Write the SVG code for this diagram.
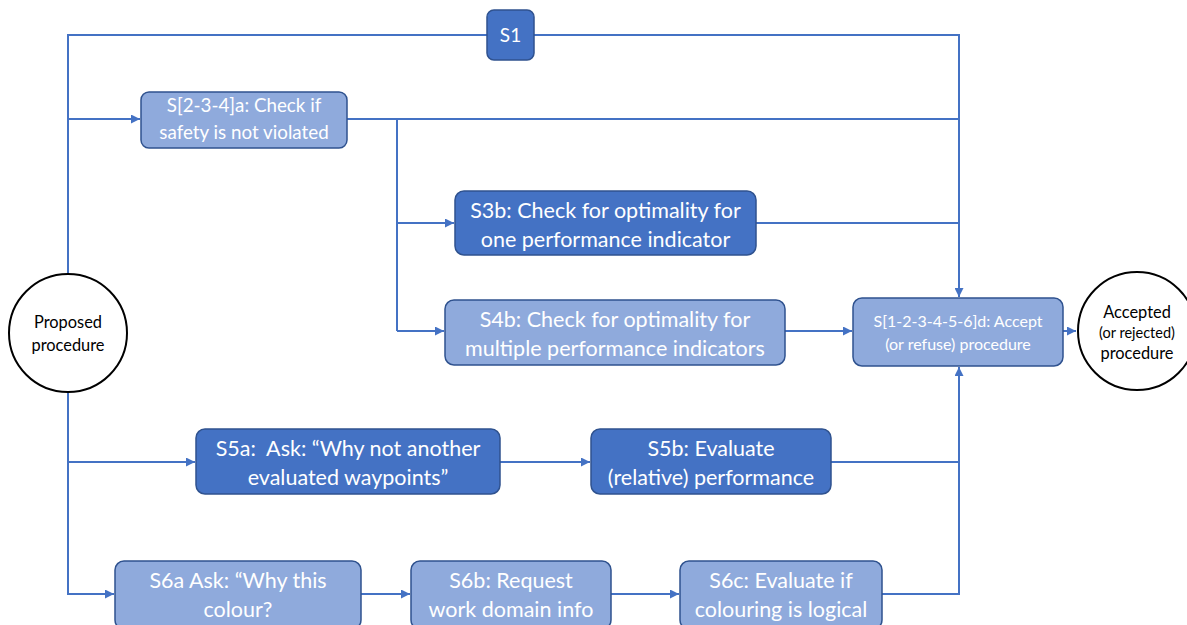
<svg xmlns="http://www.w3.org/2000/svg" width="1187" height="625" viewBox="0 0 1187 625">
  <style>
    .conn { fill: none; stroke: #4472C4; stroke-width: 2; }
    .dark { fill: #4472C4; stroke: #2F528F; stroke-width: 1.5; }
    .light { fill: #8FAADC; stroke: #2F528F; stroke-width: 1.5; }
    .circ { fill: #FFFFFF; stroke: #000000; stroke-width: 2; }
    .t { font-family: Lato, "Liberation Sans", sans-serif; fill: #FFFFFF; text-anchor: middle; white-space: pre; }
    .tb { font-family: Lato, "Liberation Sans", sans-serif; fill: #000000; text-anchor: middle; }
  </style>
  <defs>
    <marker id="arr" viewBox="0 0 10 10" refX="10" refY="5" markerWidth="4.5" markerHeight="4.5" orient="auto" markerUnits="strokeWidth">
      <path d="M0,0 L10,5 L0,10 Z" fill="#4472C4"/>
    </marker>
  </defs>
  <rect width="1187" height="625" fill="#FFFFFF"/>

  <g id="connectors">
    <!-- S1 route over the top -->
    <path class="conn" d="M68,273 V35 H959 V297" marker-end="url(#arr)"/>
    <!-- to S[2-3-4]a -->
    <path class="conn" d="M68,119 H140" marker-end="url(#arr)"/>
    <!-- S[2-3-4]a out to the accept column -->
    <path class="conn" d="M347,119 H959"/>
    <!-- branch down to S3b and S4b -->
    <path class="conn" d="M397,119 V331"/>
    <path class="conn" d="M397,223 H454" marker-end="url(#arr)"/>
    <path class="conn" d="M397,331 H444" marker-end="url(#arr)"/>
    <!-- S3b out -->
    <path class="conn" d="M756,223 H959"/>
    <!-- S4b to accept -->
    <path class="conn" d="M785,331 H852" marker-end="url(#arr)"/>
    <!-- accept to result -->
    <path class="conn" d="M1063,331 H1076" marker-end="url(#arr)"/>
    <!-- lower trunk -->
    <path class="conn" d="M68,393 V594 H114" marker-end="url(#arr)"/>
    <path class="conn" d="M68,462 H195" marker-end="url(#arr)"/>
    <path class="conn" d="M500,462 H590" marker-end="url(#arr)"/>
    <path class="conn" d="M361,594 H410" marker-end="url(#arr)"/>
    <path class="conn" d="M611,594 H679" marker-end="url(#arr)"/>
    <!-- S5b and S6c back up to accept -->
    <path class="conn" d="M831,462 H959"/>
    <path class="conn" d="M882,594 H959 V367" marker-end="url(#arr)"/>
  </g>

  <g id="proposed">
    <circle class="circ" cx="68" cy="333" r="59"/>
    <text class="tb" x="68" y="328" font-size="16.4">Proposed</text>
    <text class="tb" x="68" y="351" font-size="16.4">procedure</text>
  </g>

  <g id="s1">
    <rect class="dark" x="487" y="10" width="47" height="50" rx="7"/>
    <text class="t" x="510.5" y="42" font-size="19">S1</text>
  </g>

  <g id="s234a">
    <rect class="light" x="141" y="92" width="206" height="56" rx="8"/>
    <text class="t" x="244" y="112" font-size="18.8">S[2-3-4]a: Check if</text>
    <text class="t" x="244" y="139" font-size="18.8">safety is not violated</text>
  </g>

  <g id="s3b">
    <rect class="dark" x="455" y="191" width="301" height="64" rx="9"/>
    <text class="t" x="605.5" y="218" font-size="21.5">S3b: Check for optimality for</text>
    <text class="t" x="605.5" y="247" font-size="21.5">one performance indicator</text>
  </g>

  <g id="s4b">
    <rect class="light" x="445" y="300" width="340" height="65" rx="9"/>
    <text class="t" x="615" y="327" font-size="21.5">S4b: Check for optimality for</text>
    <text class="t" x="615" y="356" font-size="21.5">multiple performance indicators</text>
  </g>

  <g id="s123456d">
    <rect class="light" x="853" y="298" width="210" height="68" rx="9"/>
    <text class="t" x="958" y="327" font-size="16">S[1-2-3-4-5-6]d: Accept</text>
    <text class="t" x="958" y="350" font-size="16">(or refuse) procedure</text>
  </g>

  <g id="accepted">
    <circle class="circ" cx="1137" cy="331" r="59"/>
    <text class="tb" x="1137" y="318" font-size="16.4">Accepted</text>
    <text class="tb" x="1137" y="338" font-size="14.5">(or rejected)</text>
    <text class="tb" x="1137" y="359" font-size="16.4">procedure</text>
  </g>

  <g id="s5a">
    <rect class="dark" x="196" y="429" width="304" height="65" rx="9"/>
    <text class="t" x="348" y="456" font-size="21.5">S5a:  Ask: “Why not another</text>
    <text class="t" x="348" y="485" font-size="21.5">evaluated waypoints”</text>
  </g>

  <g id="s5b">
    <rect class="dark" x="591" y="429" width="240" height="65" rx="9"/>
    <text class="t" x="711" y="456" font-size="21.5">S5b: Evaluate</text>
    <text class="t" x="711" y="485" font-size="21.5">(relative) performance</text>
  </g>

  <g id="s6a">
    <rect class="light" x="115" y="561" width="246" height="68" rx="9"/>
    <text class="t" x="238" y="588" font-size="21.5">S6a Ask: “Why this</text>
    <text class="t" x="238" y="617" font-size="21.5">colour?</text>
  </g>

  <g id="s6b">
    <rect class="light" x="411" y="561" width="200" height="68" rx="9"/>
    <text class="t" x="511" y="588" font-size="21.5">S6b: Request</text>
    <text class="t" x="511" y="617" font-size="21.5">work domain info</text>
  </g>

  <g id="s6c">
    <rect class="light" x="680" y="561" width="202" height="68" rx="9"/>
    <text class="t" x="781" y="588" font-size="21.5">S6c: Evaluate if</text>
    <text class="t" x="781" y="617" font-size="21.5">colouring is logical</text>
  </g>
</svg>
